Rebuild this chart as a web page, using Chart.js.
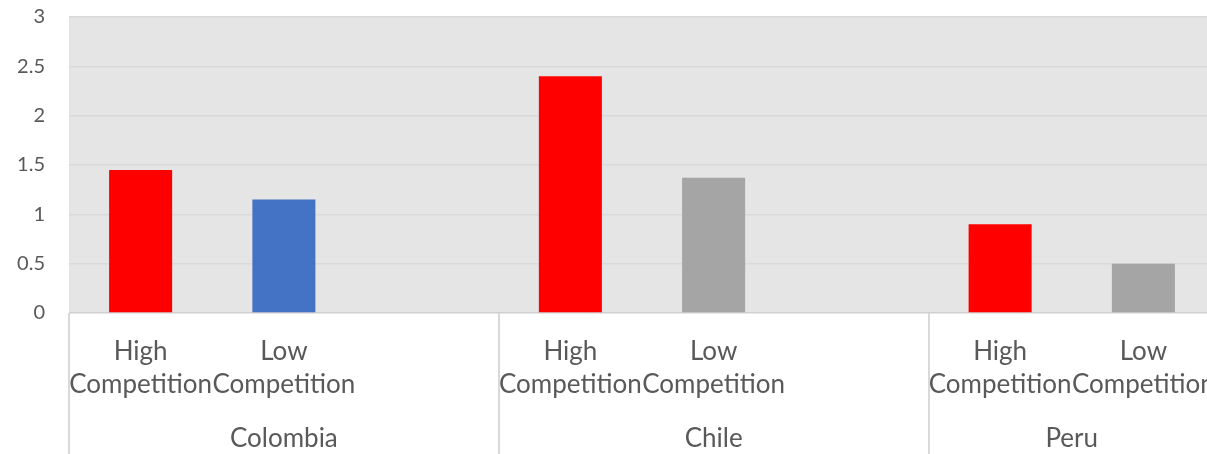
<!DOCTYPE html>
<html>
<head>
<meta charset="utf-8">
<script src="https://cdn.jsdelivr.net/npm/chart.js@4/dist/chart.umd.min.js"></script>
<style>
  html, body { margin: 0; padding: 0; overflow: hidden; background: #fff; }
  #wrap { width: 1215px; height: 454px; position: relative; }
</style>
</head>
<body>
<div id="wrap"><canvas id="chart"></canvas></div>
<script>
// 資料
const groups = ['Colombia', 'Chile', 'Peru'];
const groupLabels = [
    [['High', 'Competition'], ['Low', 'Competition'], ''],
    [['High', 'Competition'], ['Low', 'Competition'], ''],
    [['High', 'Competition'], ['Low', 'Competition']]
];
const highValues = [1.45, 2.40, 0.90];
const lowValues = [1.15, 1.37, 0.50];
const highColors = ['#ff0000', '#ff0000', '#ff0000'];
const lowColors = ['#4472c4', '#a5a5a5', '#a5a5a5'];
const yTicks = [0, 0.5, 1, 1.5, 2, 2.5, 3];

// 展開成單一類別軸
const labels = [];
const values = [];
const colors = [];
const groupStarts = [];
const groupCenters = [];
groups.forEach((g, i) => {
    const start = labels.length;
    const slots = groupLabels[i];
    groupStarts.push(start);
    groupCenters.push(start + (slots.length - 1) / 2);
    slots.forEach((lab, j) => {
        labels.push(lab);
        values.push(j === 0 ? highValues[i] : j === 1 ? lowValues[i] : null);
        colors.push(j === 0 ? highColors[i] : j === 1 ? lowColors[i] : 'transparent');
    });
});

const textColor = '#595959';
const lineColor = '#d9d9d9';

// 繪圖區灰底 + 分組分隔線
const plotDecor = {
    id: 'plotDecor',
    beforeDraw(chart) {
        const { ctx, chartArea } = chart;
        ctx.save();
        ctx.fillStyle = '#e5e5e5';
        ctx.fillRect(chartArea.left, chartArea.top, chartArea.right - chartArea.left, chartArea.bottom - chartArea.top);
        ctx.restore();
    },
    afterDraw(chart) {
        const { ctx, chartArea } = chart;
        const x = chart.scales.x;
        ctx.save();
        ctx.strokeStyle = lineColor;
        ctx.lineWidth = 2;
        groupStarts.forEach(s => {
            const px = Math.round(x.getPixelForValue(s - 0.5));
            ctx.beginPath();
            ctx.moveTo(px, chartArea.bottom);
            ctx.lineTo(px, chart.height);
            ctx.stroke();
        });
        ctx.restore();
    }
};

new Chart(document.getElementById('chart'), {
    type: 'bar',
    data: {
        labels: labels,
        datasets: [{
            data: values,
            backgroundColor: colors,
            barPercentage: 0.44,
            categoryPercentage: 1
        }]
    },
    options: {
        responsive: true,
        maintainAspectRatio: false,
        animation: false,
        layout: { padding: { top: 17, right: 0, left: 0, bottom: 0 } },
        plugins: {
            legend: { display: false },
            tooltip: { enabled: false }
        },
        scales: {
            y: {
                min: 0,
                max: 3,
                afterBuildTicks: s => { s.ticks = yTicks.map(v => ({ value: v })); },
                afterFit: s => { s.width = 69; s.paddingTop = 0; s.paddingBottom = 0; },
                border: { display: false },
                grid: {
                    drawTicks: false,
                    color: c => c.tick && c.tick.value === 0 ? '#d0d0d0' : lineColor,
                    lineWidth: 1.5
                },
                ticks: {
                    padding: 24,
                    color: textColor,
                    font: { family: 'Lato', size: 20 },
                    callback: v => String(v)
                }
            },
            x: {
                offset: true,
                afterFit: s => { s.height = 90; s.paddingLeft = 0; s.paddingRight = 0; },
                border: { display: false },
                grid: { display: false },
                ticks: {
                    autoSkip: false,
                    maxRotation: 0,
                    padding: 14,
                    color: textColor,
                    font: { family: 'Lato', size: 26, lineHeight: 1.27 }
                }
            },
            x2: {
                type: 'linear',
                position: 'bottom',
                offset: false,
                min: -0.5,
                max: labels.length - 0.5,
                afterBuildTicks: s => { s.ticks = groupCenters.map(v => ({ value: v })); },
                afterFit: s => { s.height = 51; s.paddingLeft = 0; s.paddingRight = 0; },
                border: { display: false },
                grid: { display: false },
                ticks: {
                    padding: 11,
                    color: textColor,
                    font: { family: 'Lato', size: 26, lineHeight: 1.27 },
                    callback: v => groups[groupCenters.indexOf(v)]
                }
            }
        }
    },
    plugins: [plotDecor]
});
</script>
</body>
</html>
